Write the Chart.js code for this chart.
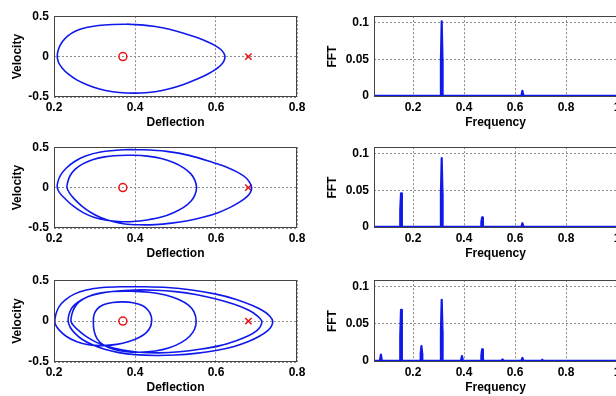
<!DOCTYPE html>
<html>
<head>
<meta charset="utf-8">
<script src="https://cdn.jsdelivr.net/npm/chart.js@4.4.1/dist/chart.umd.min.js"></script>
<style>
  html, body { margin: 0; padding: 0; background: #fff; width: 616px; height: 396px; overflow: hidden; }
  canvas { position: absolute; }
</style>
</head>
<body>
<canvas id="phase1" width="309" height="126" style="left:0px;top:4px"></canvas>
<canvas id="fft1" width="309" height="126" style="left:320px;top:4px"></canvas>
<canvas id="phase2" width="309" height="126" style="left:0px;top:135px"></canvas>
<canvas id="fft2" width="309" height="126" style="left:320px;top:135px"></canvas>
<canvas id="phase3" width="309" height="127" style="left:0px;top:268px"></canvas>
<canvas id="fft3" width="309" height="127" style="left:320px;top:268px"></canvas>
<script>
// axis ticks
const deflectionTicks = [0.2, 0.4, 0.6, 0.8];
const velocityTicks = [-0.5, 0, 0.5];
const frequencyTicks = [0.2, 0.4, 0.6, 0.8, 1];
const fftTicks = [0, 0.05, 0.1];

// fixed points of the oscillator
const centerPoint = [0.37, 0];
const saddlePoint = [0.68, 0];

// period-1 orbit (starts on the upper branch, overlaps its first segment to close)
const deflection1 = [0.380, 0.415, 0.450, 0.485, 0.520, 0.553, 0.580, 0.600, 0.612, 0.619, 0.622,
  0.620, 0.613, 0.600, 0.580, 0.555, 0.520, 0.485, 0.450, 0.415, 0.380, 0.345, 0.310, 0.280, 0.255, 0.235, 0.220, 0.211,
  0.208, 0.211, 0.220, 0.235, 0.255, 0.280, 0.310, 0.345, 0.380, 0.415];
const velocity1 = [0.400, 0.393, 0.372, 0.338, 0.290, 0.235, 0.180, 0.130, 0.088, 0.045, 0,
  -0.050, -0.100, -0.155, -0.215, -0.275, -0.345, -0.398, -0.434, -0.450, -0.450, -0.435, -0.398, -0.345, -0.285, -0.215, -0.140, -0.070,
  0, 0.090, 0.180, 0.260, 0.320, 0.360, 0.385, 0.397, 0.400, 0.393];

// period-2 orbit: wide loop, then narrow loop
const deflection2 = [0.371, 0.420, 0.478, 0.536, 0.594, 0.628, 0.655, 0.673, 0.683, 0.688,
  0.685, 0.676, 0.658, 0.635, 0.605, 0.570, 0.530, 0.490, 0.450, 0.410, 0.375, 0.345, 0.315, 0.290, 0.268, 0.250, 0.238, 0.232,
  0.234, 0.240, 0.252, 0.270, 0.295, 0.325, 0.360, 0.396, 0.430, 0.465, 0.495, 0.520, 0.538, 0.548, 0.552,
  0.548, 0.538, 0.520, 0.495, 0.465, 0.430, 0.395, 0.360, 0.330, 0.300, 0.272, 0.248, 0.228, 0.214, 0.208,
  0.210, 0.217, 0.230, 0.250, 0.278, 0.315, 0.371, 0.420];
const velocity2 = [0.468, 0.468, 0.448, 0.396, 0.308, 0.250, 0.185, 0.125, 0.065, 0,
  -0.060, -0.115, -0.180, -0.245, -0.310, -0.365, -0.410, -0.440, -0.458, -0.460, -0.450, -0.420, -0.370, -0.305, -0.225, -0.140, -0.065, 0,
  0.070, 0.150, 0.225, 0.290, 0.345, 0.380, 0.398, 0.400, 0.390, 0.360, 0.310, 0.245, 0.170, 0.090, 0,
  -0.090, -0.170, -0.245, -0.310, -0.365, -0.400, -0.420, -0.420, -0.405, -0.370, -0.310, -0.230, -0.140, -0.065, 0,
  0.080, 0.160, 0.240, 0.320, 0.390, 0.440, 0.468, 0.468];

// period-4 orbit: four loops of decreasing width
const deflection3 = [0.370, 0.420, 0.480, 0.540, 0.600, 0.650, 0.690, 0.718, 0.733, 0.740,
  0.737, 0.727, 0.707, 0.680, 0.645, 0.600, 0.550, 0.500, 0.450, 0.400, 0.360, 0.325, 0.295, 0.270, 0.252, 0.240, 0.235,
  0.237, 0.244, 0.258, 0.280, 0.310, 0.350, 0.400, 0.450, 0.500, 0.550, 0.600, 0.645, 0.680, 0.702, 0.713,
  0.710, 0.700, 0.680, 0.650, 0.610, 0.560, 0.510, 0.460, 0.410, 0.370, 0.335, 0.305, 0.280, 0.262, 0.248, 0.242,
  0.244, 0.250, 0.262, 0.282, 0.310, 0.345, 0.390, 0.435, 0.475, 0.508, 0.532, 0.546, 0.551,
  0.547, 0.535, 0.515, 0.485, 0.450, 0.410, 0.375, 0.345, 0.322, 0.307, 0.299, 0.297,
  0.299, 0.307, 0.322, 0.345, 0.370, 0.395, 0.418, 0.433, 0.440, 0.441,
  0.438, 0.428, 0.410, 0.385, 0.355, 0.320, 0.285, 0.255, 0.230, 0.213, 0.204, 0.202,
  0.205, 0.213, 0.228, 0.250, 0.280, 0.320, 0.370, 0.420];
const velocity3 = [0.420, 0.420, 0.410, 0.380, 0.330, 0.265, 0.190, 0.120, 0.060, 0,
  -0.060, -0.120, -0.185, -0.250, -0.310, -0.360, -0.395, -0.415, -0.420, -0.410, -0.385, -0.345, -0.290, -0.225, -0.150, -0.075, 0,
  0.080, 0.160, 0.230, 0.290, 0.335, 0.365, 0.380, 0.378, 0.360, 0.325, 0.270, 0.205, 0.135, 0.065, 0,
  -0.060, -0.120, -0.180, -0.240, -0.300, -0.345, -0.375, -0.388, -0.380, -0.355, -0.315, -0.260, -0.190, -0.120, -0.055, 0,
  0.080, 0.160, 0.235, 0.295, 0.340, 0.362, 0.366, 0.352, 0.320, 0.265, 0.195, 0.110, 0,
  -0.100, -0.185, -0.260, -0.325, -0.365, -0.380, -0.370, -0.340, -0.290, -0.220, -0.120, 0,
  0.080, 0.150, 0.200, 0.228, 0.235, 0.225, 0.190, 0.130, 0.060, 0,
  -0.070, -0.140, -0.200, -0.250, -0.285, -0.300, -0.290, -0.250, -0.185, -0.110, -0.045, 0,
  0.090, 0.180, 0.260, 0.330, 0.380, 0.410, 0.420, 0.420];

// spectra: each peak has a leakage sample at half height either side
const freq1 = [0.047, 0.309, 0.3095, 0.3125, 0.3155, 0.316, 0.625, 0.629, 0.633, 1.0];
const fft1 = [0, 0, 0.05, 0.102, 0.05, 0, 0, 0.007, 0, 0];

const freq2 = [0.047, 0.1495, 0.150, 0.153, 0.156, 0.1565, 0.309, 0.3095, 0.3125, 0.3155, 0.316,
  0.4675, 0.468, 0.471, 0.474, 0.4745, 0.625, 0.629, 0.633, 1.0];
const fft2 = [0, 0, 0.023, 0.046, 0.023, 0, 0, 0.046, 0.094, 0.046, 0,
  0, 0.0066, 0.013, 0.0066, 0, 0, 0.005, 0, 0];

const freq3 = [0.047, 0.070, 0.074, 0.078, 0.1495, 0.150, 0.153, 0.156, 0.1565, 0.2295, 0.230, 0.233, 0.236, 0.2365,
  0.309, 0.3095, 0.3125, 0.3155, 0.316, 0.388, 0.392, 0.396, 0.4675, 0.468, 0.471, 0.474, 0.4745,
  0.547, 0.551, 0.555, 0.625, 0.629, 0.633, 0.703, 0.707, 0.711, 1.0];
const fft3 = [0, 0, 0.0085, 0, 0, 0.034, 0.069, 0.034, 0, 0, 0.0098, 0.020, 0.0098, 0,
  0, 0.041, 0.0825, 0.041, 0, 0, 0.0066, 0, 0, 0.007, 0.0155, 0.007, 0,
  0, 0.002, 0, 0, 0.004, 0, 0, 0.0015, 0, 0];

const BLUE = 'rgb(15,25,235)';
const RED = 'rgb(235,20,20)';
const FONT = { family: '"Liberation Sans", Arial, sans-serif', size: 12, weight: 'bold' };

Chart.defaults.font = FONT;
Chart.defaults.color = '#000';

// closed frame around the plot area
const boxPlugin = {
  id: 'box',
  afterDraw(chart) {
    const { ctx, chartArea: a } = chart;
    ctx.save();
    ctx.strokeStyle = '#444';
    ctx.lineWidth = 1;
    ctx.strokeRect(Math.round(a.left) + 0.5, Math.round(a.top) + 0.5,
      Math.round(a.right) - Math.round(a.left) - 1, Math.round(a.bottom) - Math.round(a.top) - 1);
    ctx.restore();
  }
};

function fmt(v) {
  return v === 0 ? '0' : String(Math.round(v * 100) / 100);
}

function points(xs, ys) {
  return xs.map((x, i) => ({ x: x, y: ys[i] }));
}

function axis(opts) {
  return {
    type: 'linear',
    min: opts.min,
    max: opts.max,
    afterBuildTicks: s => { s.ticks = opts.ticks.map(v => ({ value: v })); },
    afterFit: s => { if (opts.width) s.width = opts.width; if (opts.height) s.height = opts.height; },
    ticks: { padding: opts.pad, maxRotation: 0, autoSkip: false, callback: fmt, color: '#000', font: FONT },
    grid: { color: '#8a8a8a', lineWidth: 1, drawTicks: false },
    border: { display: false, dash: [2, 2] },
    title: { display: true, text: opts.title, color: '#000', font: FONT, padding: opts.titlePad }
  };
}

function makePlot(id, datasets, xOpts, yOpts) {
  return new Chart(document.getElementById(id), {
    type: 'scatter',
    data: { datasets: datasets },
    options: {
      responsive: false,
      animation: false,
      events: [],
      layout: { padding: { top: 10, right: 12, bottom: 0, left: 0 } },
      plugins: { legend: { display: false }, tooltip: { enabled: false } },
      scales: { x: axis(xOpts), y: axis(yOpts) }
    },
    plugins: [boxPlugin]
  });
}

function phasePlot(id, xs, vs) {
  makePlot(id, [
    { data: points(xs, vs), showLine: true, borderColor: BLUE, borderWidth: 1.6, pointRadius: 0, tension: 0.35 },
    { data: [{ x: centerPoint[0], y: centerPoint[1] }], pointStyle: 'circle', pointRadius: 4,
      borderColor: RED, backgroundColor: 'rgba(0,0,0,0)', pointBorderWidth: 1.5 },
    { data: [{ x: saddlePoint[0], y: saddlePoint[1] }], pointStyle: 'crossRot', pointRadius: 4.5,
      borderColor: RED, pointBorderWidth: 1.5 }
  ],
  { min: 0.2, max: 0.8, ticks: deflectionTicks, title: 'Deflection', height: 33, pad: 3, titlePad: 0 },
  { min: -0.5, max: 0.5, ticks: velocityTicks, title: 'Velocity', width: 54, pad: 5, titlePad: { top: 10, bottom: 0 } });
}

function spectrumPlot(id, fs, amps) {
  makePlot(id, [
    { data: points(fs, amps), showLine: true, borderColor: BLUE, borderWidth: 2.2, borderJoinStyle: 'round',
      pointRadius: 0, tension: 0 }
  ],
  { min: 0.047, max: 1.0, ticks: frequencyTicks, title: 'Frequency', height: 33, pad: 3, titlePad: 0 },
  { min: -0.0015, max: 0.109, ticks: fftTicks, title: 'FFT', width: 54, pad: 5, titlePad: { top: 5, bottom: 0 } });
}

phasePlot('phase1', deflection1, velocity1);
phasePlot('phase2', deflection2, velocity2);
phasePlot('phase3', deflection3, velocity3);
spectrumPlot('fft1', freq1, fft1);
spectrumPlot('fft2', freq2, fft2);
spectrumPlot('fft3', freq3, fft3);
</script>
</body>
</html>
